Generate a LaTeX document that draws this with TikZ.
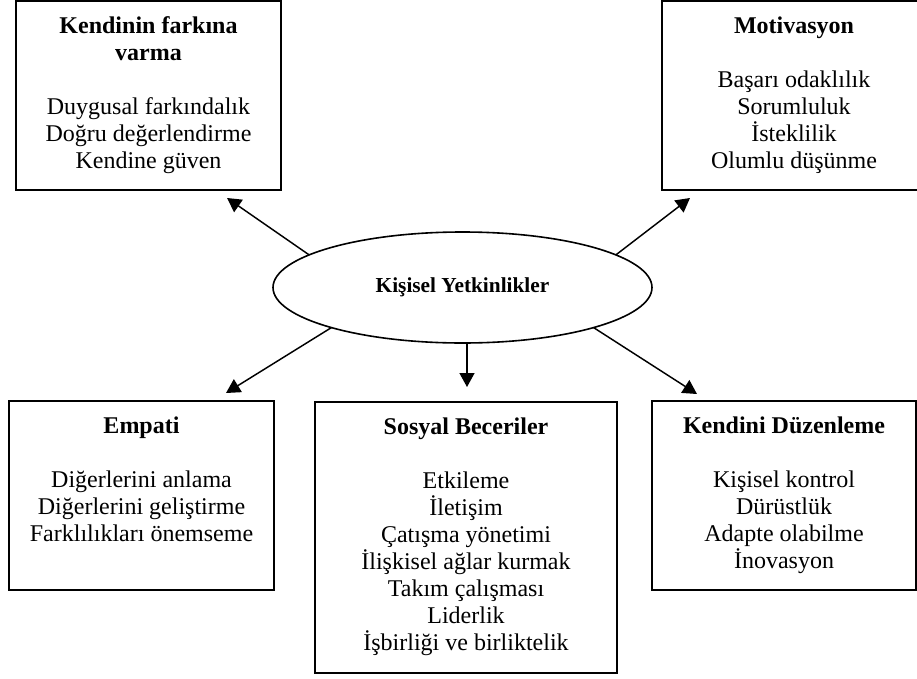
\documentclass[tikz,border=0pt]{standalone}
\usepackage{fontspec}
\setmainfont{Liberation Serif}
\usepackage{tikz}
\usetikzlibrary{shapes.geometric, arrows.meta, positioning}

\begin{document}
\begin{tikzpicture}[x=0.75pt, y=-0.75pt,
    box/.style={draw, line width=1.5pt, align=center, outer sep=0pt, inner sep=0pt,
        font=\fontsize{18}{20.25}\selectfont},
    hub/.style={ellipse, draw, line width=1.2pt, outer sep=0pt, inner sep=0pt,
        minimum width=284.25pt, minimum height=83.25pt, font=\bfseries\fontsize{16}{18}\selectfont},
    arr/.style={-{Triangle[length=10.5pt, width=11.25pt]}, line width=1.1pt}]
    \useasboundingbox (0,0) rectangle (917,678);
    \node[hub] (kis) at (462.5,287.5) {Kişisel Yetkinlikler};
    \node[box, minimum width=198.75pt, minimum height=141.75pt] (farkina) at (148.5,95.5)
        {\strut\textbf{Kendinin farkına}\\\textbf{varma}\\[20.25pt]Duygusal farkındalık\\Doğru değerlendirme\\Kendine güven\strut};
    \node[box, minimum width=198pt, minimum height=141.75pt] (motiv) at (794,95.5)
        {\strut\textbf{Motivasyon}\\[20.25pt]Başarı odaklılık\\Sorumluluk\\İsteklilik\\Olumlu düşünme\strut};
    \node[box, minimum width=198.75pt, minimum height=141.75pt] (empati) at (141.5,495.5)
        {\strut\textbf{Empati}\\[20.25pt]Diğerlerini anlama\\Diğerlerini geliştirme\\Farklılıkları önemseme\\\strut};
    \node[box, minimum width=226.5pt, minimum height=203.25pt] (sosyal) at (466,537.5)
        {\strut\textbf{Sosyal Beceriler}\\[20.25pt]Etkileme\\İletişim\\Çatışma yönetimi\\İlişkisel ağlar kurmak\\Takım çalışması\\Liderlik\\İşbirliği ve birliktelik\strut};
    \node[box, minimum width=198pt, minimum height=141.75pt] (duzen) at (784,495.5)
        {\strut\textbf{Kendini Düzenleme}\\[20.25pt]Kişisel kontrol\\Dürüstlük\\Adapte olabilme\\İnovasyon\strut};
    \coordinate (tfarkina) at (227,198);
    \coordinate (tmotiv) at (690,198);
    \coordinate (tempati) at (226,393);
    \coordinate (tsosyal) at (467,387);
    \coordinate (tduzen) at (697,394);
    \draw[arr] (kis.168) -- (tfarkina);
    \draw[arr] (kis.12) -- (tmotiv);
    \draw[arr] (kis.197) -- (tempati);
    \draw[arr] (kis.south -| tsosyal) -- (tsosyal);
    \draw[arr] (kis.343) -- (tduzen);
\end{tikzpicture}
\end{document}
